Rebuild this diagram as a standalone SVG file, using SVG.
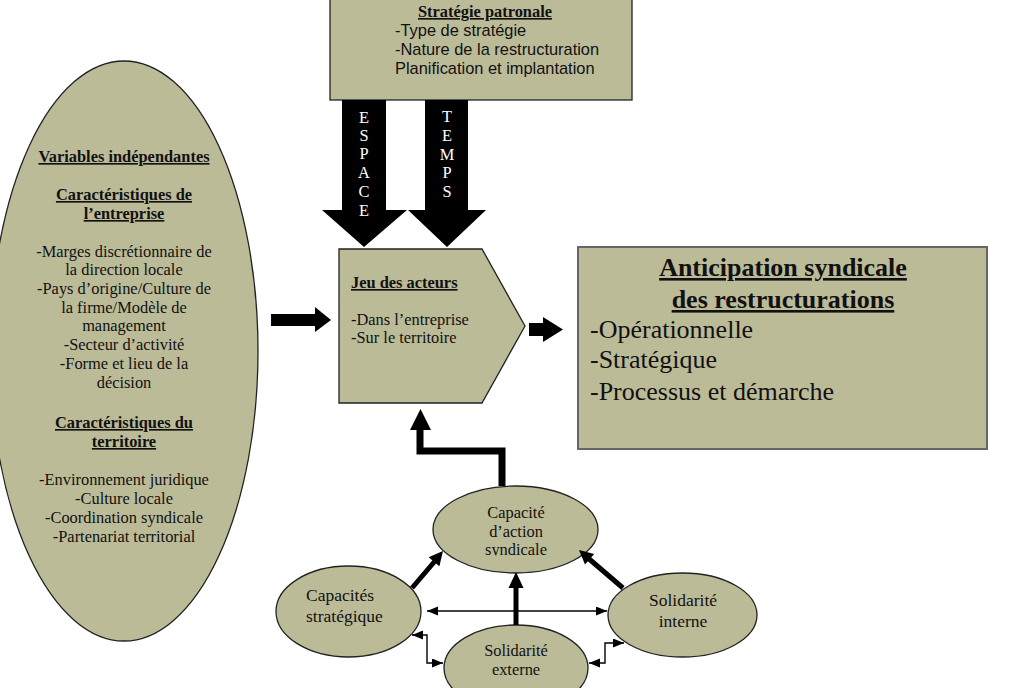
<svg xmlns="http://www.w3.org/2000/svg" width="1011" height="688" viewBox="0 0 1011 688">
<style>
.shape{fill:#bcbb98;stroke:#222;stroke-width:1.3}
.serif{font-family:"Liberation Serif","Times New Roman",serif;fill:#111}
.sans{font-family:"Liberation Sans",Arial,sans-serif;fill:#111}
.b{font-weight:bold;text-decoration:underline}
.blk{fill:#000;stroke:none}
.thin{fill:none;stroke:#000;stroke-width:1.4;marker-start:url(#ah);marker-end:url(#ah)}
.thick{fill:none;stroke:#000}
.v{font-family:"Liberation Serif","Times New Roman",serif;fill:#fff;font-size:16.4px;text-anchor:middle}
</style>
<defs>
<marker id="ah" markerUnits="userSpaceOnUse" markerWidth="12" markerHeight="10" refX="11" refY="4.5" orient="auto-start-reverse">
<path d="M0,0 L11,4.5 L0,9 z" fill="#000"/>
</marker>
<clipPath id="clipS"><rect x="430" y="480" width="170" height="75.6"/></clipPath>
</defs>
<rect width="1011" height="688" fill="#fff"/>

<g id="strategie-patronale">
<rect class="shape" x="330" y="-2" width="302" height="102" stroke="#333"/>
<text class="serif b" x="485" y="17" font-size="16.4" text-anchor="middle">Stratégie patronale</text>
<text class="sans" x="395" y="36" font-size="16.4">-Type de stratégie</text>
<text class="sans" x="395" y="55" font-size="16.4">-Nature de la restructuration</text>
<text class="sans" x="395" y="74" font-size="16.4">Planification et implantation</text>
</g>

<g id="espace-arrow">
<polygon class="blk" points="342,100 386,100 386,210 407,210 364,247 322,210 342,210"/>
<text class="v" x="364" y="123">E</text>
<text class="v" x="364" y="141">S</text>
<text class="v" x="364" y="159">P</text>
<text class="v" x="364" y="178">A</text>
<text class="v" x="364" y="197">C</text>
<text class="v" x="364" y="216">E</text>
</g>

<g id="temps-arrow">
<polygon class="blk" points="425,100 468,100 468,210 486,210 447,247 408,210 425,210"/>
<text class="v" x="447" y="122">T</text>
<text class="v" x="447" y="141">E</text>
<text class="v" x="447" y="160">M</text>
<text class="v" x="447" y="178">P</text>
<text class="v" x="447" y="197">S</text>
</g>

<g id="variables-independantes">
<ellipse class="shape" cx="124" cy="351" rx="134" ry="290"/>
<g class="serif" font-size="16.4" text-anchor="middle">
<text class="b" x="124" y="162">Variables indépendantes</text>
<text class="b" x="124" y="200">Caractéristiques de</text>
<text class="b" x="124" y="219">l’entreprise</text>
<text x="124" y="257">-Marges discrétionnaire de</text>
<text x="124" y="275">la direction locale</text>
<text x="124" y="294">-Pays d’origine/Culture de</text>
<text x="124" y="313">la firme/Modèle de</text>
<text x="124" y="331">management</text>
<text x="124" y="350">-Secteur d’activité</text>
<text x="124" y="369">-Forme et lieu de la</text>
<text x="124" y="388">décision</text>
<text class="b" x="124" y="428">Caractéristiques du</text>
<text class="b" x="124" y="447">territoire</text>
<text x="124" y="485">-Environnement juridique</text>
<text x="124" y="504">-Culture locale</text>
<text x="124" y="523">-Coordination syndicale</text>
<text x="124" y="542">-Partenariat territorial</text>
</g>
</g>

<g id="jeu-des-acteurs">
<polygon class="shape" points="339,249 482,249 525,326 482,403 339,403"/>
<text class="serif b" x="351" y="288" font-size="16.4">Jeu des acteurs</text>
<text class="serif" x="351" y="325" font-size="16.4">-Dans l’entreprise</text>
<text class="serif" x="351" y="343" font-size="16.4">-Sur le territoire</text>
</g>

<g id="anticipation-syndicale">
<rect x="578" y="247" width="409" height="202" fill="#bcbb98" stroke="#666" stroke-width="2"/>
<text class="serif b" x="783" y="276" font-size="26" text-anchor="middle">Anticipation syndicale</text>
<text class="serif b" x="783" y="308" font-size="26" text-anchor="middle">des restructurations</text>
<text class="serif" x="590" y="338" font-size="26">-Opérationnelle</text>
<text class="serif" x="590" y="368" font-size="26">-Stratégique</text>
<text class="serif" x="590" y="400" font-size="26">-Processus et démarche</text>
</g>

<g id="capacite-action-syndicale">
<ellipse class="shape" cx="515.5" cy="529.5" rx="82.5" ry="43.5"/>
<g class="serif" font-size="16.4" text-anchor="middle">
<text x="516" y="518">Capacité</text>
<text x="516" y="537">d’action</text>
<text x="516" y="555" clip-path="url(#clipS)">syndicale</text>
</g>
</g>

<g id="capacites-strategique">
<ellipse class="shape" cx="348.5" cy="611.5" rx="72.5" ry="45.5"/>
<text class="serif" x="306" y="601" font-size="17.5">Capacités</text>
<text class="serif" x="306" y="622" font-size="17.5">stratégique</text>
</g>

<g id="solidarite-interne">
<ellipse class="shape" cx="682.5" cy="615" rx="74.5" ry="42"/>
<text class="serif" x="683" y="606" font-size="17.5" text-anchor="middle">Solidarité</text>
<text class="serif" x="683" y="627" font-size="17.5" text-anchor="middle">interne</text>
</g>

<g id="solidarite-externe">
<ellipse class="shape" cx="516" cy="668" rx="72" ry="43"/>
<text class="serif" x="516" y="656" font-size="16.4" text-anchor="middle">Solidarité</text>
<text class="serif" x="516" y="675" font-size="16.4" text-anchor="middle">externe</text>
</g>

<g id="connectors">
<polygon class="blk" points="271,314 315,314 315,307 331,320 315,332 315,326 271,326"/>
<polygon class="blk" points="529,323 543,323 543,317 563,329.5 543,342 543,336 529,336"/>
<path class="thick" d="M502,486 V451 H420 V428" stroke-width="7"/>
<polygon class="blk" points="410,430 431,430 420.5,409"/>
<line class="thick" x1="412" y1="588" x2="435" y2="561" stroke-width="5"/>
<polygon class="blk" points="443,551 439.4,566.2 428.6,557.2"/>
<line class="thick" x1="623" y1="588" x2="588" y2="558" stroke-width="5"/>
<polygon class="blk" points="579,550 594.2,553.9 585,564.5"/>
<line class="thick" x1="516" y1="625" x2="516" y2="586" stroke-width="5"/>
<polygon class="blk" points="508.5,588 523.5,588 516,572"/>
<line class="thin" x1="427" y1="611" x2="607" y2="611"/>
<polyline class="thin" points="412,635 427,635 427,663 443,663"/>
<polyline class="thin" points="589,663 605,663 605,643 624,643"/>
</g>
</svg>
